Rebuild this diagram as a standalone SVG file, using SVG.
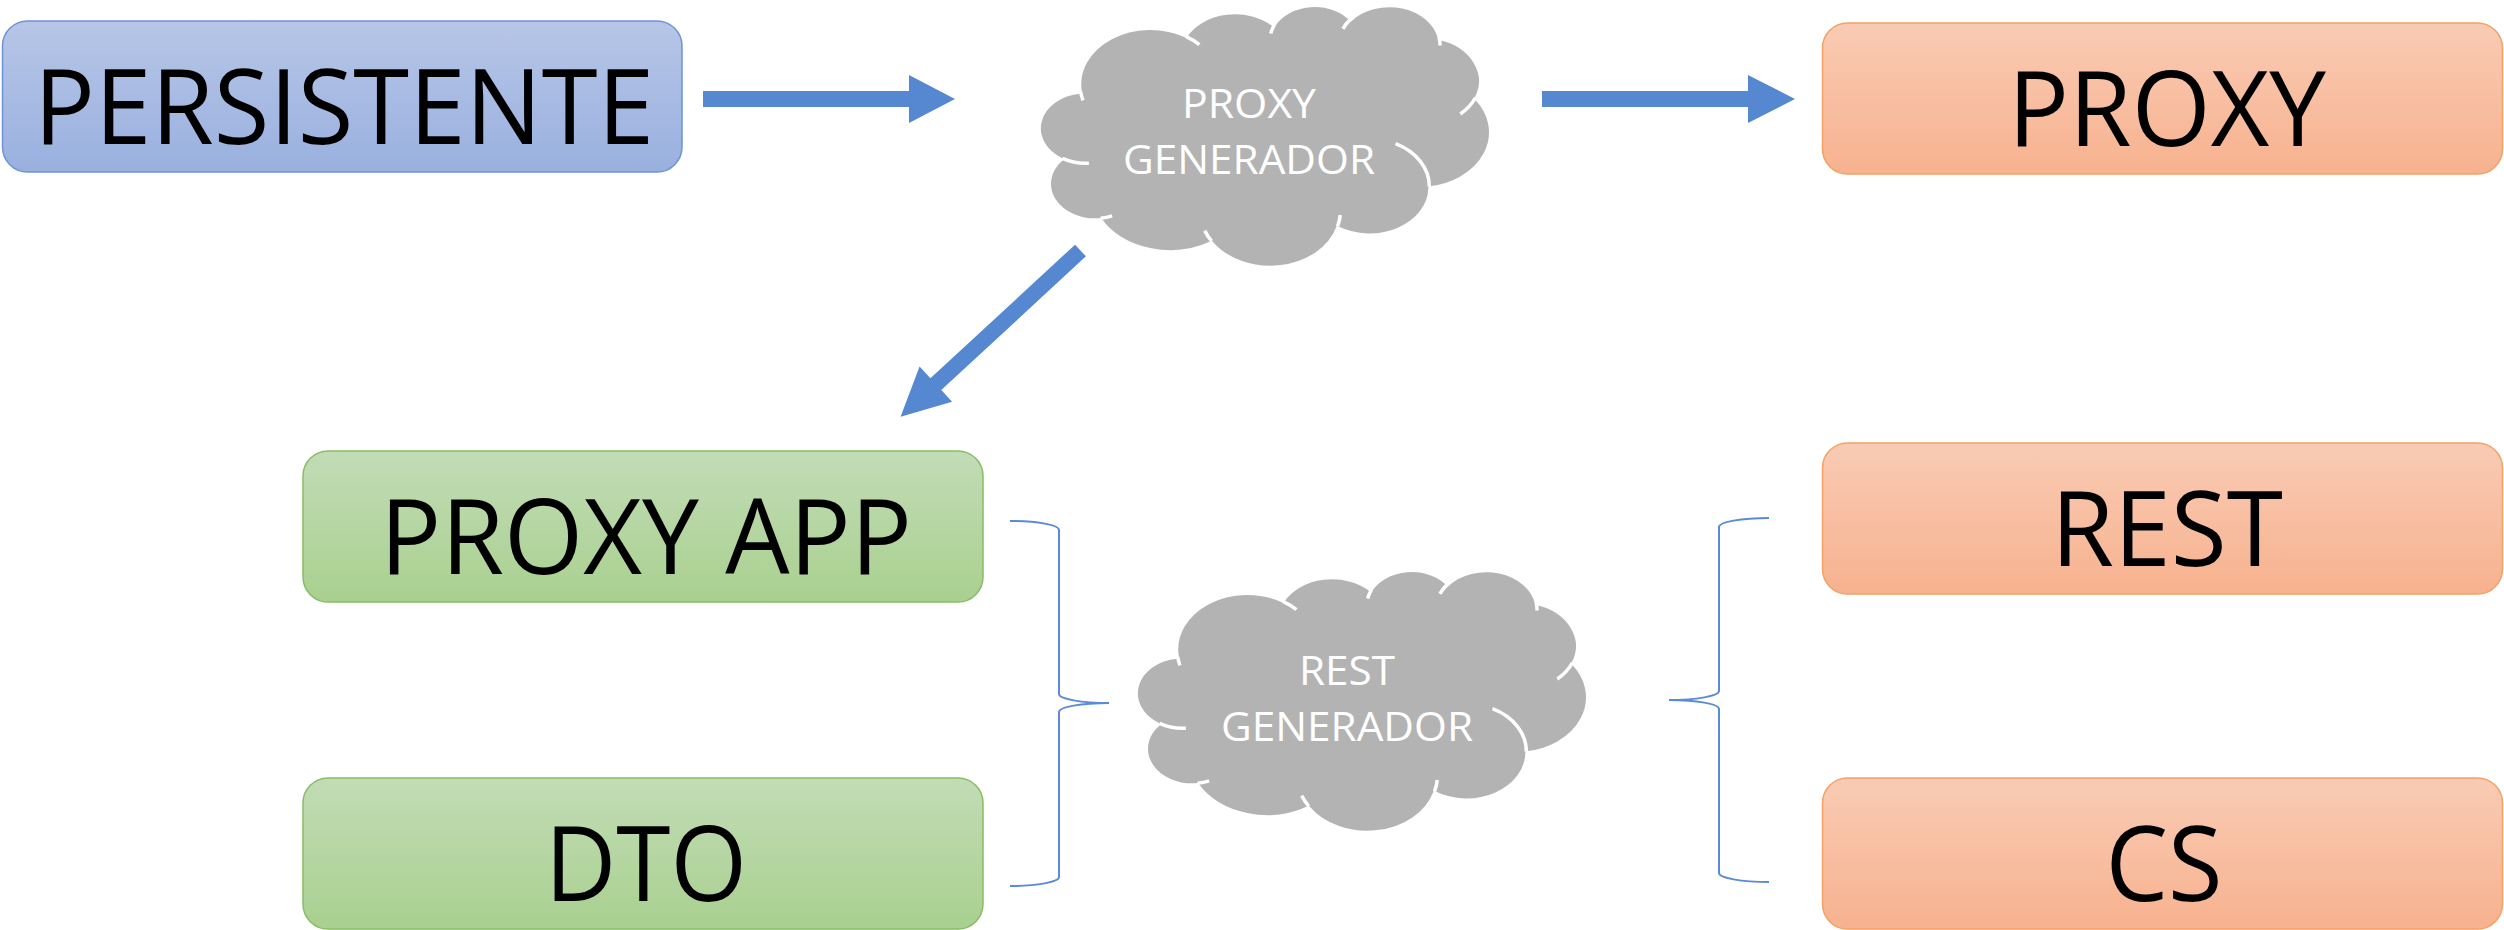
<svg xmlns="http://www.w3.org/2000/svg" xmlns:xlink="http://www.w3.org/1999/xlink" width="2504" height="930" viewBox="0 0 2504 930">
<style>
.big{font-family:"Open Sans","Noto Sans","Liberation Sans",sans-serif;font-size:104px;fill:#000;text-anchor:middle}
.ct{font-family:"Open Sans","Noto Sans","Liberation Sans",sans-serif;font-size:41px;fill:#fff;text-anchor:middle}
.arrow{fill:#5588D0}
.brace{fill:none;stroke:#5B8BD6;stroke-width:2}
.cloudfill{fill:#B3B3B3;stroke:#fff;stroke-width:2.5;vector-effect:non-scaling-stroke}
.cloudline{fill:none;stroke:#fff;stroke-width:3.5;vector-effect:non-scaling-stroke}
</style>
<defs>
<linearGradient id="gBlue" x1="0" y1="0" x2="0" y2="1"><stop offset="0" stop-color="#B7C6E7"/><stop offset="1" stop-color="#99B0DF"/></linearGradient>
<linearGradient id="gOrange" x1="0" y1="0" x2="0" y2="1"><stop offset="0" stop-color="#F9CBB4"/><stop offset="1" stop-color="#F7B28F"/></linearGradient>
<linearGradient id="gGreen" x1="0" y1="0" x2="0" y2="1"><stop offset="0" stop-color="#C2DCB6"/><stop offset="1" stop-color="#A9D08F"/></linearGradient>
<g id="cloud">
<path class="cloudfill" d="M3900 14370 A6753 9190 0 0 1 14005 5202 A5333 7267 0 0 1 22457 3433 A4365 5945 0 0 1 29834 2482 A4857 6595 0 0 1 38318 5578 A5333 7273 0 0 1 41818 15462 A6775 9220 0 0 1 37405 30206 A5785 7867 0 0 1 28556 36816 A6752 9215 0 0 1 16481 39268 A7720 10543 0 0 1 5804 35471 A4360 5918 0 0 1 2114 25547 A4345 5945 0 0 1 3864 14503 Z"/>
<path class="cloudline" d="M4693 26177 A4345 5945 0 0 1 2160 25380 M6928 34899 A4360 5918 0 0 1 5819 35281 M16478 39090 A6752 9215 0 0 1 15810 37349 M28827 34751 A6752 9215 0 0 1 28560 36660 M34129 22954 A5785 7867 0 0 1 37380 30089 M41798 15354 A5333 7273 0 0 1 40349 18031 M38324 5426 A4857 6595 0 0 1 38400 6690 M29078 3952 A4857 6595 0 0 1 29820 2339 M22141 4720 A4365 5945 0 0 1 22500 3330 M14000 5192 A6753 9190 0 0 1 15301 6542 M4127 15789 A6753 9190 0 0 1 3900 14370"/>
</g>
</defs>
<rect width="2504" height="930" fill="#fff"/>

<g id="node-persistente">
<rect x="2.5" y="21" width="679.5" height="151" rx="25" fill="url(#gBlue)" stroke="#6E93D6" stroke-width="1.5"/>
<text class="big" x="344" y="144" textLength="620" lengthAdjust="spacingAndGlyphs">PERSISTENTE</text>
</g>

<g id="node-proxy-generador">
<use xlink:href="#cloud" href="#cloud" transform="translate(1040,5) scale(0.0104167,0.0060417)"/>
<text class="ct" x="1249" y="118" textLength="134" lengthAdjust="spacingAndGlyphs">PROXY</text>
<text class="ct" x="1249" y="174" textLength="252" lengthAdjust="spacingAndGlyphs">GENERADOR</text>
</g>

<g id="node-proxy">
<rect x="1822.5" y="23" width="680" height="151" rx="25" fill="url(#gOrange)" stroke="#F4A163" stroke-width="1.5"/>
<text class="big" x="2167" y="146" textLength="318" lengthAdjust="spacingAndGlyphs">PROXY</text>
</g>

<g id="node-proxy-app">
<rect x="303" y="451" width="680" height="151" rx="25" fill="url(#gGreen)" stroke="#88BC66" stroke-width="1.5"/>
<text class="big" x="646" y="574" textLength="532" lengthAdjust="spacingAndGlyphs">PROXY APP</text>
</g>

<g id="node-dto">
<rect x="303" y="778" width="680" height="151" rx="25" fill="url(#gGreen)" stroke="#88BC66" stroke-width="1.5"/>
<text class="big" x="646" y="901" textLength="202" lengthAdjust="spacingAndGlyphs">DTO</text>
</g>

<g id="node-rest-generador">
<use xlink:href="#cloud" href="#cloud" transform="translate(1137,570) scale(0.0104167,0.0060417)"/>
<text class="ct" x="1347" y="685" textLength="96" lengthAdjust="spacingAndGlyphs">REST</text>
<text class="ct" x="1347" y="741" textLength="252" lengthAdjust="spacingAndGlyphs">GENERADOR</text>
</g>

<g id="node-rest">
<rect x="1822.5" y="443" width="680" height="151" rx="25" fill="url(#gOrange)" stroke="#F4A163" stroke-width="1.5"/>
<text class="big" x="2167" y="566" textLength="232" lengthAdjust="spacingAndGlyphs">REST</text>
</g>

<g id="node-cs">
<rect x="1822.5" y="778" width="680" height="151" rx="25" fill="url(#gOrange)" stroke="#F4A163" stroke-width="1.5"/>
<text class="big" x="2164" y="901" textLength="117" lengthAdjust="spacingAndGlyphs">CS</text>
</g>

<g id="connectors">
<polygon class="arrow" points="703,91 909,91 909,75 955,99 909,123 909,107 703,107"/>
<polygon class="arrow" points="1542,91 1748,91 1748,75 1795,99 1748,123 1748,107 1542,107"/>
<polygon class="arrow" transform="translate(1080.5,250.5) rotate(137.25)" points="0,-8 197,-8 197,-24 245,0 197,24 197,8 0,8"/>
<path class="brace" d="M1010 521 A49 9 0 0 1 1059 530 L1059 694 A50 9 0 0 0 1109 703 A50 9 0 0 0 1059 712 L1059 877 A49 9 0 0 1 1010 886"/>
<path class="brace" d="M1769 518 A50 9 0 0 0 1719 527 L1719 691 A50 9 0 0 1 1669 700 A50 9 0 0 1 1719 709 L1719 873 A50 9 0 0 0 1769 882"/>
</g>
</svg>
